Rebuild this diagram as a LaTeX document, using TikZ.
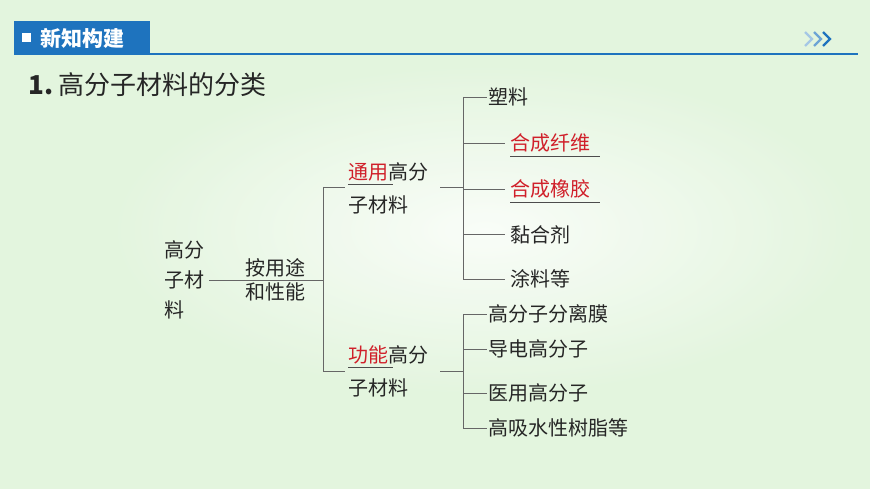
\documentclass[tikz,border=0pt]{standalone}
\usepackage{fontspec}
\newfontfamily\cjk{Noto Sans CJK SC}
\usetikzlibrary{positioning}
\definecolor{hdr}{HTML}{1E73BE}
\definecolor{bg}{HTML}{E3F5DE}
\definecolor{red1}{HTML}{D0202A}
\begin{document}
\begin{tikzpicture}[x=1pt,y=-1pt,
  t/.style={font=\cjk\fontsize{20}{20}\selectfont,inner sep=0pt,anchor=west,text=black!85},
  ln/.style={draw=black!60,line width=0.9pt},
  ul/.style={draw=black!70,line width=0.7pt}]
\useasboundingbox (0,0) rectangle (870,489);
\fill[bg] (0,0) rectangle (870,489);
\shade[inner color=white,outer color=bg,opacity=0.8] (100,60) rectangle (870,400);
% header
\fill[hdr] (14,21) rectangle (150,54);
\draw[hdr,line width=1.2pt] (14,54) -- (858,54);
\fill[white] (22,33) rectangle (31,42);
\node[t,text=white,font=\cjk\bfseries\fontsize{21}{21}\selectfont] (hd) at (40,38) {新知构建};
\foreach \dx/\c in {0/hdr!40,9/hdr!65,18/hdr} \draw[\c,line width=2.4pt] (805+\dx,32) -- (812+\dx,39) -- (805+\dx,46);
\node[t,font=\cjk\fontsize{26}{26}\selectfont] (title) at (28,85) {\textbf{1.}\ 高分子材料的分类};
% root
\node[t,align=left,font=\cjk\fontsize{20}{30}\selectfont] (root) at (164,280) {高分\\子材\\料};
\node[t,align=left,font=\cjk\fontsize{20}{24}\selectfont] (by) at (245,280) {按用途\\和性能};
\coordinate (r1) at (209,280); \coordinate (r2) at (323,280);
\draw[ln] (r1) -- (r2);
\coordinate (ta) at (323,187); \coordinate (tb) at (323,371);
\draw[ln] (ta) -- (tb);
\draw[ln] (ta) -- (345,187); \draw[ln] (tb) -- (345,371);
% general
\node[t] (g1) at (348,172) {\textcolor{red1}{通用}高分};
\node[t] (g2) at (348,205) {子材料};
\draw[ul] (348,184) -- (393,184);
\node[t] (f1) at (348,355) {\textcolor{red1}{功能}高分};
\node[t] (f2) at (348,388) {子材料};
\draw[ul] (348,367) -- (393,367);
\draw[ln] (440,187) -- (463,187);
\draw[ln] (440,371) -- (463,371);
% upper branches
\draw[ln] (463,97) -- (463,279);
\draw[ln] (463,97) -- (487,97); \node[t] (s1) at (488,97) {塑料};
\draw[ln] (463,143) -- (505,143); \node[t,text=red1] (s2) at (510,143) {合成纤维};
\draw[ul] (510,156) -- (600,156);
\draw[ln] (463,189) -- (505,189); \node[t,text=red1] (s3) at (510,189) {合成橡胶};
\draw[ul] (510,202) -- (600,202);
\draw[ln] (463,234) -- (505,234); \node[t] (s4) at (510,235) {黏合剂};
\draw[ln] (463,279) -- (505,279); \node[t] (s5) at (510,279) {涂料等};
% lower branches
\draw[ln] (463,314) -- (463,428);
\draw[ln] (463,314) -- (487,314); \node[t] (p1) at (488,314) {高分子分离膜};
\draw[ln] (463,349) -- (487,349); \node[t] (p2) at (488,349) {导电高分子};
\draw[ln] (463,393) -- (487,393); \node[t] (p3) at (488,393) {医用高分子};
\draw[ln] (463,428) -- (487,428); \node[t] (p4) at (488,428) {高吸水性树脂等};
\end{tikzpicture}
\end{document}
